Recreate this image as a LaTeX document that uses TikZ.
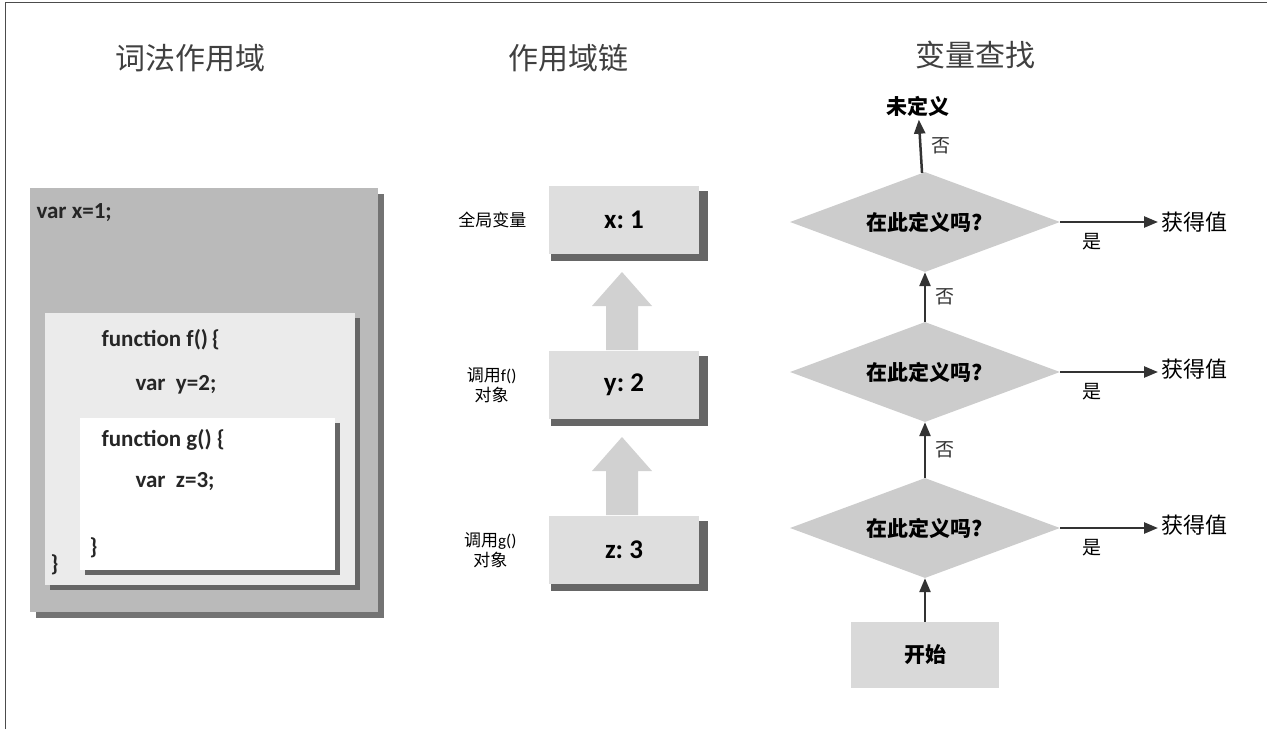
\documentclass[tikz,border=0pt]{standalone}
\usepackage{fontspec}
\setmainfont{Carlito}
\newfontfamily\cjk{Noto Sans CJK SC}
\usetikzlibrary{shapes.geometric,arrows.meta}

\begin{document}
\begin{tikzpicture}[x=1pt, y=-1pt,
                    title/.style={font=\cjk\fontsize{30}{30}\selectfont, text=black!75},
                    code/.style={font=\bfseries\fontsize{23}{23}\selectfont, anchor=west, text=black!85},
                    chainbox/.style={draw=none, fill=black!13, minimum width=150pt, minimum height=68pt,
                                     font=\bfseries\fontsize{27}{27}\selectfont},
                    lbl/.style={font=\cjk\fontsize{17}{20}\selectfont, align=center},
                    ask/.style={diamond, aspect=2.7, fill=black!20, inner sep=2pt, minimum width=270pt,
                                minimum height=100pt, font=\cjk\bfseries\fontsize{21}{21}\selectfont},
                    flow/.style={-{Triangle[length=14pt,width=11pt]}, line width=2.5pt, black!80},
                    side/.style={font=\cjk\fontsize{19}{19}\selectfont},
                    got/.style={font=\cjk\fontsize{22}{22}\selectfont, anchor=west},
                    big/.style={fill=black!18, draw=none}]
                \useasboundingbox (0,0) rectangle (1267,729);
                \draw [black!70, line width=1pt] (5,729) -- (5,2) -- (1267,2);

                % titles
                \node [title] (t1) at (190,58) {词法作用域};
                \node [title] (t2) at (568,58) {作用域链};
                \node [title] (t3) at (975,55) {变量查找};

                % lexical scope
                \fill [black!55] (36,194) rectangle (384,618);
                \fill [black!27] (30,188) rectangle (378,612);
                \node [code] (vx) at (33,213) {var x=1;};
                \fill [black!60] (50,318) rectangle (360,590);
                \fill [black!8] (45,313) rectangle (355,585);
                \fill [black!60] (85,423) rectangle (340,575);
                \fill [white] (80,418) rectangle (335,570);
                \node [code] (ff) at (98,340) {function f()\,\{};
                \node [code] (vy) at (132,385) {var\ \ y=2;};
                \node [code] (fg) at (98,440) {function g()\ \{};
                \node [code] (vz) at (132,482) {var\ \ z=3;};
                \node [code] (cg) at (86,548) {\}};
                \node [code] (cf) at (47,565) {\}};

                % scope chain
                \foreach \n/\y/\t in {x/220/{x:\ 1}, y/385/{y:\ 2}, z/550/{z:\ 3}} {
                    \fill [black!60] (551,\y-29) rectangle (708,\y+41);
                    \node [chainbox] (c\n) at (624,\y) {\t};
                }
                \node [lbl, anchor=east] (lx) at (530,220) {全局变量};
                \node [lbl, anchor=east] (ly) at (520,385) {调用{\rmfamily f()}\\对象};
                \node [lbl, anchor=east] (lz) at (520,550) {调用{\rmfamily g()}\\对象};
                \foreach \t in {272,437} {
                    \path [big] (606,\t+78) -- (606,\t+34) -- (592,\t+34) -- (622,\t)
                        -- (652,\t+34) -- (638,\t+34) -- (638,\t+78) -- cycle;
                }

                % variable lookup
                \node [ask] (q1) at (925,222) {在此定义吗?};
                \node [ask] (q2) at (925,372) {在此定义吗?};
                \node [ask] (q3) at (925,528) {在此定义吗?};
                \node [draw=none, fill=black!15, minimum width=148pt, minimum height=66pt,
                       font=\cjk\bfseries\fontsize{21}{21}\selectfont] (st) at (925,655) {开始};
                \node [font=\cjk\bfseries\fontsize{21}{21}\selectfont] (ud) at (918,106) {未定义};
                \node [got] (g1) at (1158,222) {获得值};
                \node [got] (g2) at (1158,369) {获得值};
                \node [got] (g3) at (1158,525) {获得值};
                \foreach \q in {1,2,3} {
                    \draw [flow] (q\q.east) -- (g\q.west |- q\q.east);
                    \node [side] at ([xshift=32pt, yshift=-20pt]q\q.east) {是};
                }
                \draw [flow] (st) -- (q3);
                \draw [flow] (q3) -- (q2) node [side, midway, right=6pt] {否};
                \draw [flow] (q2) -- (q1) node [side, midway, right=6pt] {否};
                \draw [flow] (q1) -- (ud) node [side, midway, right=6pt] {否};
            \end{tikzpicture}
\end{document}
